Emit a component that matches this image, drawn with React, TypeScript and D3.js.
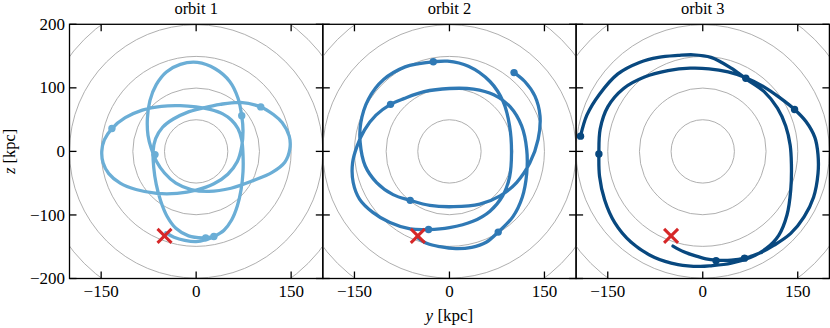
import * as d3 from 'd3'

type Pt = [number, number]

const titles = ['orbit 1', 'orbit 2', 'orbit 3']
const colors = ['#6baed6', '#2f79b5', '#08487f']
const ringRadii = [50, 100, 150, 200, 250]
const xTicks = [-150, 0, 150]
const yTicks = [-200, -100, 0, 100, 200]
const present: Pt = [-50, -133]

// orbit tracks [y, z] in kpc
const orbit1: Pt[] = [
  [-48, -128], [-35, -135], [-18, -140], [0, -142], [15, -139], [30, -133],
  [44, -124], [56, -108], [65, -86], [71, -60], [74, -32], [74, -5], [72, 18], [66, 36], [56, 49], [42, 59],
  [22, 66], [0, 70], [-25, 72], [-55, 71], [-85, 65], [-112, 53], [-133, 36], [-145, 18], [-149, 0],
  [-147, -18], [-138, -35], [-120, -50], [-95, -60], [-62, -66], [-30, -66], [0, -61], [28, -51], [50, -36],
  [65, -16], [72, 8], [74, 32], [72, 56], [66, 84], [53, 110], [30, 130], [2, 140],
  [-25, 137], [-47, 125], [-63, 105], [-73, 80], [-77, 52], [-76, 25], [-71, 5], [-63, -15], [-50, -34],
  [-32, -50], [-8, -60], [20, -63], [55, -58], [90, -46], [120, -33], [140, -17], [148, 4],
  [147, 24], [136, 45], [122, 58], [102, 70], [70, 77], [38, 74], [10, 68], [-15, 61], [-36, 51], [-53, 38],
  [-64, 20], [-68, 0], [-67, -25], [-63, -52], [-56, -78], [-46, -102], [-32, -121], [-12, -133], [10, -136],
  [28, -134],
]
const orbit2: Pt[] = [
  [-50, -136], [-35, -145], [-15, -150], [10, -153], [35, -151], [58, -143], [77, -127], [100, -103], [115, -72],
  [122, -35], [122, 3], [114, 40], [96, 70], [70, 89], [38, 98], [0, 99], [-40, 94], [-72, 83], [-93, 74],
  [-116, 57], [-134, 34], [-146, 8], [-153, -18], [-152, -49], [-142, -75], [-121, -96], [-94, -112], [-62, -122],
  [-33, -123], [0, -120], [37, -110], [64, -94], [84, -70], [95, -40], [98, -2], [95, 40], [85, 78], [64, 110],
  [30, 134], [-3, 142], [-25, 141], [-48, 138], [-70, 133], [-104, 113], [-128, 82], [-140, 45], [-141, 14],
  [-133, -23], [-115, -49], [-89, -68], [-62, -77], [-31, -85], [6, -87], [48, -83], [80, -70], [106, -49],
  [127, -18], [140, 19], [143, 56], [135, 87], [119, 110], [102, 124],
]
const orbit3: Pt[] = [
  [-47, -149], [-30, -158], [-13, -164], [5, -169], [21, -171], [45, -171], [66, -168], [90, -160], [112, -148],
  [139, -129], [160, -103], [175, -72], [182, -35], [182, -5], [177, 22], [163, 47], [145, 66], [121, 85],
  [96, 102], [68, 116], [40, 125], [10, 130], [-20, 131], [-55, 127], [-92, 117], [-125, 99], [-150, 70],
  [-162, 35], [-164, -4], [-163, -39], [-155, -76], [-139, -112], [-113, -143], [-76, -167], [-39, -178],
  [-5, -181], [13, -180], [45, -176], [75, -167], [100, -153], [120, -132], [133, -100], [139, -60], [140, -20],
  [138, 10], [131, 40], [118, 68], [97, 94], [70, 113], [45, 131], [13, 148], [-15, 152], [-39, 151],
  [-70, 148], [-100, 140], [-134, 122], [-163, 90], [-183, 57], [-193, 24],
]
const dots1: Pt[] = [[-133, 36], [-65, -5], [72, 56], [102, 70], [15, -136], [28, -134]]
const dots2: Pt[] = [[-25.5, 141], [-93, 74], [-62, -77], [-33, -123], [77, -127], [102, 124]]
const dots3: Pt[] = [[-193, 24], [-164, -4], [68, 115], [145, 66], [21, -172], [66, -168]]

const orbits = [orbit1, orbit2, orbit3]
const dots = [dots1, dots2, dots3]

const W = 830
const H = 328
const left = 69.5
const top = 24.3
const pw = 253.3
const ph = 254.2
const font = '"Liberation Serif", "Times New Roman", serif'
const fmt = (v: number) => (v < 0 ? '\u2212' + Math.abs(v) : String(v))

export default function App() {
  return (
    <svg width={W} height={H} style={{ position: 'absolute', left: 0, top: 0 }} fontFamily={font}>
      {titles.map((title, i) => {
        let x0 = left + i * pw
        let x = d3.scaleLinear().domain([-200, 200]).range([x0, x0 + pw])
        let y = d3.scaleLinear().domain([-200, 200]).range([top + ph, top])
        let line = d3.line<Pt>().x(d => x(d[0])).y(d => y(d[1])).curve(d3.curveCatmullRom.alpha(0.5))
        let k = x(1) - x(0)
        let tl = 7
        return (
          <g key={title}>
            <clipPath id={'clip' + i}>
              <rect x={x0} y={top} width={pw} height={ph} />
            </clipPath>
            <g clipPath={`url(#clip${i})`}>
              {ringRadii.map(r => (
                <circle key={r} cx={x(0)} cy={y(0)} r={r * k} fill="none" stroke="#a6a6a6" strokeWidth={0.9} />
              ))}
              <path d={line(orbits[i]) || ''} fill="none" stroke={colors[i]} strokeWidth={3.3} strokeLinecap="round" strokeLinejoin="round" />
              {dots[i].map((d, j) => (
                <circle key={j} cx={x(d[0])} cy={y(d[1])} r={3.7} fill={colors[i]} />
              ))}
              <g stroke="#d62728" strokeWidth={3}>
                <line x1={x(present[0]) - 7} y1={y(present[1]) - 7} x2={x(present[0]) + 7} y2={y(present[1]) + 7} />
                <line x1={x(present[0]) - 7} y1={y(present[1]) + 7} x2={x(present[0]) + 7} y2={y(present[1]) - 7} />
              </g>
            </g>
            {xTicks.map(t => (
              <g key={'x' + t} stroke="#000" strokeWidth={1.3}>
                <line x1={x(t)} x2={x(t)} y1={top} y2={top + tl} />
                <line x1={x(t)} x2={x(t)} y1={top + ph} y2={top + ph - tl} />
              </g>
            ))}
            {yTicks.map(t => (
              <g key={'y' + t} stroke="#000" strokeWidth={1.3}>
                <line x1={x0} x2={x0 + tl} y1={y(t)} y2={y(t)} />
                <line x1={x0 + pw} x2={x0 + pw - tl} y1={y(t)} y2={y(t)} />
              </g>
            ))}
            <rect x={x0} y={top} width={pw} height={ph} fill="none" stroke="#000" strokeWidth={1.3} />
            {xTicks.map(t => (
              <text key={'xl' + t} x={x(t)} y={297} textAnchor="middle" fontSize={17}>{fmt(t)}</text>
            ))}
            {i === 0 && yTicks.map(t => (
              <text key={'yl' + t} x={x0 - 4.5} y={y(t)} dy="0.33em" textAnchor="end" fontSize={17}>{fmt(t)}</text>
            ))}
            <text x={x(0)} y={14} textAnchor="middle" fontSize={16.5}>{title}</text>
          </g>
        )
      })}
      <text x={left + 1.5 * pw} y={321} textAnchor="middle" fontSize={17}>
        <tspan fontStyle="italic">y</tspan> [kpc]
      </text>
      <text transform={`translate(14.5,${top + ph / 2}) rotate(-90)`} textAnchor="middle" fontSize={16.5}>
        <tspan fontStyle="italic">z</tspan> [kpc]
      </text>
    </svg>
  )
}
